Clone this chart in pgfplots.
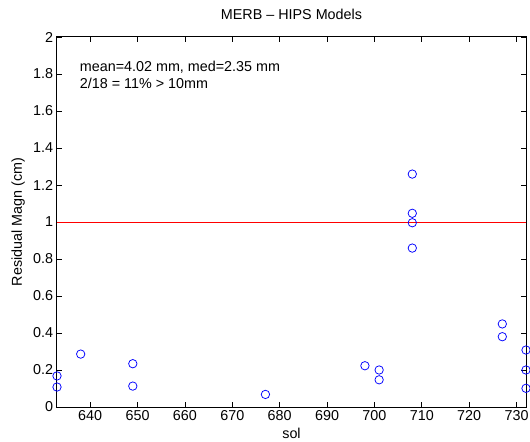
\documentclass[border=0pt]{standalone}
\usepackage{fontspec}
\setmainfont{Liberation Sans}
\usepackage{pgfplots}
\pgfplotsset{compat=1.18}
\begin{document}
\fontsize{14.4}{17}\selectfont
\begin{tikzpicture}
\begin{axis}[
  at={(0,0)}, anchor=south west,
  scale only axis,
  width=469bp, height=370bp,
  xmin=633, xmax=732, ymin=0, ymax=2,
  xtick={640,650,...,730},
  ytick={0,0.2,...,2},
  tick align=inside,
  major tick length=5bp,
  axis line style={line width=1bp, black},
  every tick/.style={black, line width=0.6bp},
  tick label style={font=\fontsize{14.4}{17}\selectfont},
  xticklabel style={yshift=1bp},
  yticklabel style={/pgf/number format/fixed, xshift=1bp},
  /pgf/number format/assume math mode=true,
  title={MERB -- HIPS Models},
  title style={font=\fontsize{14.4}{17}\selectfont, at={(axis description cs:0.5,1.046)}, anchor=center},
  xlabel={sol},
  ylabel={Residual Magn (cm)},
  xlabel style={font=\fontsize{14.4}{17}\selectfont, at={(axis description cs:0.5,-0.072)}, anchor=center, inner sep=0pt},
  ylabel style={font=\fontsize{14.4}{17}\selectfont, at={(axis description cs:-0.083,0.5)}, anchor=center},
  clip=false,
]
\addplot[red, line width=0.8bp, forget plot] coordinates {(633,1) (732,1)};
\addplot[only marks, mark=o, mark size=4.2bp, blue, mark options={line width=0.75bp}] coordinates {
(633,0.168) (633,0.108)
(638,0.286)
(649,0.234) (649,0.113)
(677,0.068)
(698,0.223)
(701,0.200) (701,0.147)
(708,1.259) (708,1.047) (708,0.996) (708,0.859)
(727,0.449) (727,0.380)
(732,0.308) (732,0.200) (732,0.101)
};
\node[anchor=west, align=left, font=\fontsize{14.4}{17}\selectfont, inner sep=0pt] at (axis cs:637.8,1.797) {mean=4.02 mm, med=2.35 mm\\2/18 = 11\% > 10mm};
\end{axis}
\pgfresetboundingbox
\path (-57bp,-35bp) rectangle (473bp,407bp);
\end{tikzpicture}
\end{document}
